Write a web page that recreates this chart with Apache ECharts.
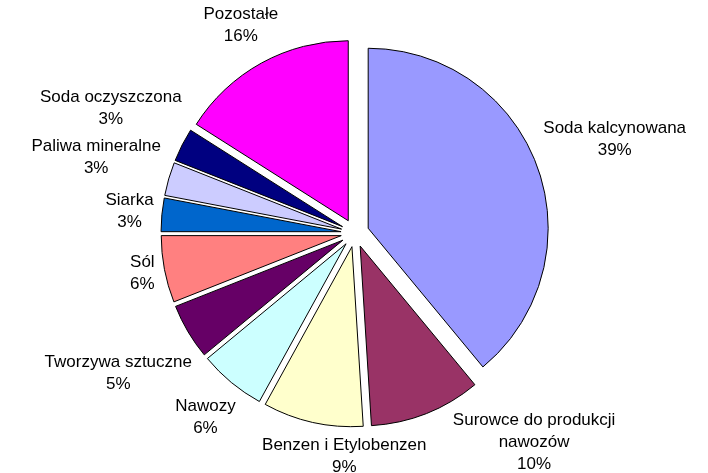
<!DOCTYPE html>
<html>
<head>
<meta charset="utf-8">
<script src="https://cdn.jsdelivr.net/npm/echarts@6/dist/echarts.min.js"></script>
<style>
  html, body { margin: 0; padding: 0; background: #fff; }
  #chart { width: 708px; height: 473px; }
</style>
</head>
<body>
<div id="chart"></div>
<script>
// slices, clockwise from 12 o'clock
const names = [
    "Soda kalcynowana",
    "Surowce do produkcji\nnawozów",
    "Benzen i Etylobenzen",
    "Nawozy",
    "Tworzywa sztuczne",
    "Sól",
    "Siarka",
    "Paliwa mineralne",
    "Soda oczyszczona",
    "Pozostałe"
];
const shares = [39, 10, 9, 6, 5, 6, 3, 3, 3, 16];
const colors = [
    "#9999FF", "#993366", "#FFFFCC", "#CCFFFF", "#660066",
    "#FF8080", "#0066CC", "#CCCCFF", "#000080", "#FF00FF"
];

const CENTER = [355, 233];
const RADIUS = 180;
const EXPLODE = 14;
const GAP = 7;
const PAD_X = 25; // side-by-side labels keep this much room
const FONT_SIZE = 17;
const LINE_H = 22;
const FONT = "Liberation Sans";

const total = shares.reduce((a, b) => a + b, 0);
const labelText = (i) => names[i] + "\n" + shares[i] + "%";

// mid angle of each slice, clockwise from top
const midAngle = (i) => {
    let before = 0;
    for (let k = 0; k < i; k++) before += shares[k];
    return ((before + shares[i] / 2) / total) * Math.PI * 2;
};

// label box sizes
const ctx = document.createElement("canvas").getContext("2d");
ctx.font = FONT_SIZE + "px '" + FONT + "'";
const boxSize = (i) => {
    const lines = labelText(i).split("\n");
    const w = Math.max(...lines.map((l) => ctx.measureText(l).width));
    return [w, lines.length * LINE_H];
};

// box centred on a ray from the slice centre, just clear of the arc
const boxOnRay = (i, phi) => {
    const a = midAngle(i);
    const sx = CENTER[0] + EXPLODE * Math.sin(a);
    const sy = CENTER[1] - EXPLODE * Math.cos(a);
    const dx = Math.sin(phi), dy = -Math.cos(phi);
    const [w, h] = boxSize(i);
    const hw = w / 2, hh = h / 2;
    let t = 0;
    while (t < 400) {
        const cx = t * dx, cy = t * dy;
        const nx = Math.min(Math.max(0, cx - hw), cx + hw);
        const ny = Math.min(Math.max(0, cy - hh), cy + hh);
        if (Math.hypot(nx, ny) >= RADIUS + GAP) break;
        t += 0.5;
    }
    const x = sx + t * dx, y = sy + t * dy;
    return { x: x, y: y, x0: x - hw, x1: x + hw, y0: y - hh, y1: y + hh };
};

const overlaps = (p, q) =>
    p.x0 < q.x1 + PAD_X && q.x0 < p.x1 + PAD_X && p.y0 < q.y1 - 1 && q.y0 < p.y1 - 1;

// sweep counter-clockwise, rotating a label back while it hits one already placed
const placed = [];
for (let i = names.length - 1; i >= 0; i--) {
    let phi = midAngle(i);
    let box = boxOnRay(i, phi);
    let steps = 0;
    while (placed.some((p) => p && overlaps(p, box)) && steps < 90) {
        phi -= Math.PI / 360;
        box = boxOnRay(i, phi);
        steps++;
    }
    placed[i] = box;
}

const pieData = names.map((name, i) => ({ name: name, value: shares[i] }));

const chart = echarts.init(document.getElementById("chart"));

chart.setOption({
    animation: false,
    series: [
        {
            // exploded slices
            type: "pie",
            center: CENTER,
            radius: RADIUS,
            startAngle: 90,
            clockwise: true,
            selectedMode: "multiple",
            selectedOffset: EXPLODE,
            itemStyle: { borderColor: "#000", borderWidth: 1 },
            emphasis: { disabled: true },
            label: { show: false },
            labelLine: { show: false },
            data: pieData.map((d, i) => ({
                ...d,
                selected: true,
                itemStyle: { color: colors[i] }
            }))
        },
        {
            // labels only
            type: "pie",
            center: CENTER,
            radius: RADIUS,
            startAngle: 90,
            clockwise: true,
            silent: true,
            avoidLabelOverlap: false,
            itemStyle: { color: "rgba(0,0,0,0)", borderWidth: 0 },
            emphasis: { disabled: true },
            label: {
                show: true,
                position: "outside",
                formatter: "{b}\n{c}%",
                color: "#000",
                fontFamily: FONT + ", Arial, sans-serif",
                fontSize: FONT_SIZE,
                lineHeight: LINE_H,
                align: "center"
            },
            labelLine: { show: false },
            labelLayout: (params) => ({
                x: placed[params.dataIndex].x,
                y: placed[params.dataIndex].y,
                align: "center",
                verticalAlign: "middle"
            }),
            data: pieData
        }
    ]
});
</script>
</body>
</html>
